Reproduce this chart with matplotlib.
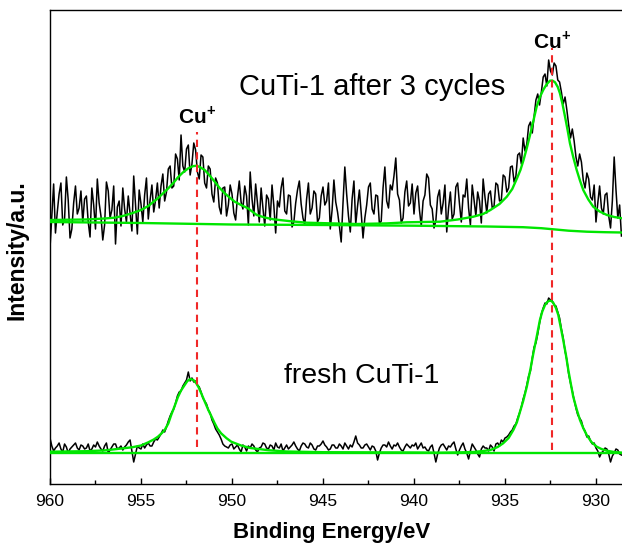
import numpy as np
import matplotlib
matplotlib.use('Agg')
import matplotlib.pyplot as plt
from matplotlib.ticker import MultipleLocator

plt.rcParams['font.family'] = ['Liberation Sans', 'DejaVu Sans']
plt.rcParams['mathtext.fontset'] = 'custom'
plt.rcParams['mathtext.rm'] = 'Liberation Sans'
plt.rcParams['mathtext.bf'] = 'Liberation Sans:bold'

# binding energy grid of the raw spectra (0.1 eV step, 960 -> 928.6 eV)
e_start = 960.0
e_step = 0.1

# raw counts, CuTi-1 after 3 cycles (upper trace), arbitrary units
cycled = [
    236, 268, 300, 251, 272, 290, 301, 259, 265, 307, 284, 246, 255, 281, 298, 270, 276, 293, 262, 285,
    288, 262, 247, 296, 279, 255, 305, 281, 268, 244, 259, 302, 293, 266, 274, 298, 240, 277, 283, 258,
    296, 275, 262, 288, 271, 253, 308, 279, 250, 294, 280, 262, 289, 306, 265, 284, 299, 272, 284, 301,
    276, 298, 310, 283, 292, 315, 318, 296, 298, 330, 325, 304, 349, 318, 312, 335, 339, 309, 320, 341,
    334, 312, 305, 329, 327, 301, 296, 318, 315, 290, 282, 306, 301, 277, 270, 296, 297, 268, 279, 299,
    290, 271, 264, 287, 303, 282, 275, 298, 288, 259, 312, 285, 268, 300, 281, 262, 296, 276, 258, 289,
    285, 264, 299, 278, 251, 283, 277, 296, 306, 273, 270, 289, 288, 257, 262, 281, 294, 303, 280, 266,
    259, 285, 301, 270, 276, 293, 290, 262, 266, 288, 297, 279, 283, 301, 255, 274, 304, 282, 272, 258,
    242, 281, 317, 290, 268, 252, 285, 303, 260, 278, 294, 271, 246, 266, 279, 297, 301, 275, 270, 289,
    288, 260, 263, 296, 317, 283, 276, 299, 294, 308, 326, 290, 284, 261, 266, 292, 303, 278, 281, 300,
    270, 291, 298, 274, 258, 283, 289, 310, 306, 279, 275, 256, 263, 287, 294, 270, 281, 299, 252, 276,
    292, 265, 270, 297, 301, 280, 262, 289, 287, 305, 276, 259, 299, 284, 268, 292, 283, 261, 305, 287,
    271, 290, 293, 276, 278, 301, 299, 283, 284, 309, 307, 292, 296, 317, 318, 302, 308, 329, 331, 320,
    346, 333, 340, 358, 362, 351, 368, 384, 390, 379, 392, 407, 410, 398, 424, 413, 409, 421, 418, 404,
    402, 392, 380, 387, 374, 359, 346, 355, 343, 327, 318, 330, 322, 304, 296, 311, 305, 287, 284, 299,
    262, 281, 298, 276, 270, 289, 291, 268, 256, 283, 327, 294, 266, 279, 248,
]

# raw counts, fresh CuTi-1 (lower trace)
fresh = [
    46, 38, 33, 36, 38, 41, 35, 32, 40, 37, 31, 35, 37, 39, 41, 36, 34, 39, 38, 35,
    36, 40, 33, 35, 39, 37, 42, 38, 35, 33, 38, 41, 31, 34, 37, 40, 40, 35, 36, 38,
    34, 37, 39, 42, 44, 33, 22, 30, 38, 36, 35, 40, 36, 39, 41, 38, 38, 42, 45, 44,
    47, 50, 54, 52, 57, 63, 68, 72, 75, 81, 88, 92, 93, 98, 101, 104, 112, 103, 106, 102,
    103, 99, 97, 92, 86, 83, 80, 74, 71, 64, 60, 55, 52, 49, 45, 40, 38, 37, 36, 39,
    40, 35, 37, 39, 35, 32, 39, 37, 33, 38, 36, 40, 38, 34, 32, 36, 37, 41, 40, 36,
    35, 39, 38, 34, 41, 37, 36, 40, 33, 36, 39, 35, 37, 39, 42, 38, 35, 33, 38, 41,
    40, 37, 36, 41, 39, 35, 34, 38, 38, 40, 43, 39, 37, 34, 35, 39, 39, 36, 36, 40,
    38, 35, 41, 38, 35, 39, 37, 42, 48, 41, 39, 36, 36, 39, 40, 37, 34, 38, 37, 33,
    24, 31, 36, 39, 39, 37, 42, 38, 35, 39, 38, 41, 37, 34, 33, 37, 40, 38, 36, 39,
    38, 41, 35, 38, 41, 36, 37, 34, 33, 37, 39, 31, 22, 30, 36, 39, 40, 37, 34, 38,
    37, 40, 42, 35, 29, 34, 38, 41, 35, 31, 25, 33, 40, 37, 34, 30, 27, 35, 38, 36,
    36, 33, 39, 37, 33, 40, 41, 38, 44, 42, 46, 47, 49, 52, 54, 58, 60, 66, 71, 77,
    85, 91, 99, 108, 113, 126, 137, 141, 150, 161, 170, 176, 181, 180, 186, 184, 183, 179, 178, 172,
    166, 155, 146, 133, 124, 110, 101, 93, 84, 76, 69, 66, 63, 56, 53, 47, 48, 43, 40, 41,
    36, 33, 27, 31, 33, 36, 35, 30, 22, 28, 31, 35, 34, 30, 29,
]

# fitted envelope and background, upper spectrum
cyc_fit_e = [960, 958, 957, 956.45, 956, 955.5, 955, 954.6, 954.3, 954.07,
             953.8, 953.5, 953.2, 952.97, 952.7, 952.4, 952.15, 951.95, 951.75,
             951.5, 951.25, 950.95, 950.7, 950.4, 950.1, 949.85, 949.5, 949.12,
             948.64, 948.2, 947.73, 946.8, 945.9, 944.5, 943.15, 941.5, 940.4,
             939.5, 938.57, 937.6, 936.74, 936.2, 935.8, 935.3, 934.9, 934.6,
             934.34, 934.15, 933.98, 933.8, 933.6, 933.43, 933.26, 933.08, 932.9,
             932.72, 932.53, 932.4, 932.25, 932.1, 931.98, 931.84, 931.7, 931.56,
             931.43, 931.25, 931.06, 930.88, 930.7, 930.42, 930.15, 929.8, 929.4,
             929.0, 928.57]
cyc_fit = [264, 264.5, 265.5, 266.3, 268, 270.7, 274, 278, 282.5, 285.7,
           290.5, 295.7, 301.5, 306.7, 311.5, 315.7, 317.8, 318.3, 316.8,
           314, 309, 302.3, 296.5, 290.7, 286, 282.3, 279, 275.7,
           269, 266.5, 264.7, 262.8, 261.3, 260.6, 260, 260.6, 261.7,
           262, 262.3, 264.5, 267.3, 270, 274, 280, 287.3, 295,
           305.7, 314, 324, 336, 350.7, 364, 377.3, 387, 394,
           399.5, 403.3, 403.5, 401.7, 397, 390.7, 380, 367.3, 354,
           340.7, 327, 314, 303.5, 294, 284.5, 277.3, 272.5, 269,
           267, 265.7]
cyc_bg_e = [960, 955, 950, 945, 940, 936, 934, 933, 932.4, 931.5, 930.5, 929.5, 928.57]
cyc_bg = [262, 261, 259.5, 259, 258.3, 257.5, 256.8, 255.8, 254.8, 253.3, 252.3, 251.8, 251.5]

# fitted envelope and background, lower spectrum
fresh_fit_e = [960, 958, 957, 956.45, 955.5, 955, 954.6, 954.3, 954.07, 953.85,
               953.7, 953.5, 953.34, 953.15, 952.97, 952.8, 952.6, 952.45, 952.29,
               952.12, 951.96, 951.83, 951.69, 951.5, 951.3, 951.1, 950.95, 950.8,
               950.6, 950.3, 950.04, 949.5, 949, 948, 947, 945, 940, 938.57, 937.5,
               936.74, 936.2, 935.8, 935.4, 935.1, 934.8, 934.54, 934.35, 934.2,
               934.0, 933.8, 933.6, 933.44, 933.25, 933.08, 932.95, 932.8, 932.68,
               932.56, 932.45, 932.35, 932.2, 932.07, 931.95, 931.8, 931.65, 931.52,
               931.38, 931.25, 931.05, 930.88, 930.7, 930.51, 930.25, 929.96, 929.7,
               929.4, 929.0, 928.57]
fresh_fit = [32.3, 32.8, 33.6, 34.7, 36.7, 38.5, 41.7, 44.5, 47.3, 51,
             54, 60.5, 69, 78, 87, 93.5, 99, 103, 105,
             104, 100.7, 96.5, 90.7, 82.5, 74, 66.5, 60.7, 55.5,
             50.7, 45.8, 42.3, 38.5, 36, 33.8, 32.5, 31.8, 31.5, 31.3, 31.6,
             32, 33, 34, 37, 40.7, 46, 54, 61.5, 70.7,
             83, 97.3, 115, 130.7, 148, 164, 172.5, 179, 182,
             183.3, 183, 181.3, 176, 169, 158, 144, 129, 114,
             100, 87.3, 74, 64, 56, 49, 42, 37.3, 35,
             33.3, 32, 31.3]
fresh_bg_e = [960, 928.57]
fresh_bg = [31, 31]

# Cu+ peak markers
peak_e = [951.9, 932.4]
peak_top = [352, 436]
peak_bottom = [37, 34]
label_y = [368, 443]

e_cyc = e_start - e_step * np.arange(len(cycled))
e_fresh = e_start - e_step * np.arange(len(fresh))

fig = plt.figure(figsize=(6.22, 5.45), dpi=100)
ax = fig.add_axes([50/622, 1 - 484/545, 572/622, 474/545])

green = '#00e600'
ax.plot(e_cyc, cycled, color='black', lw=1.1, zorder=2)
ax.plot(e_fresh, fresh, color='black', lw=1.1, zorder=2)
ax.plot(cyc_bg_e, cyc_bg, color=green, lw=1.7, zorder=3)
ax.plot(cyc_fit_e, cyc_fit, color=green, lw=1.7, zorder=3)
ax.plot(fresh_bg_e, fresh_bg, color=green, lw=1.7, zorder=3)
ax.plot(fresh_fit_e, fresh_fit, color=green, lw=1.7, zorder=3)

ax.vlines(peak_e, peak_bottom, peak_top, colors='#f02828', lw=1.5,
          linestyles=(0, (3.5, 2.5)), zorder=4)
for pe, ly in zip(peak_e, label_y):
    ax.text(pe, ly, r'$\mathbf{Cu}^{\mathbf{+}}$', ha='center', va='center', fontsize=15)

ax.text(942.3, 397, 'CuTi-1 after 3 cycles', ha='center', va='center', fontsize=21)
ax.text(942.86, 108, 'fresh CuTi-1', ha='center', va='center', fontsize=20.5)

ax.set_xlim(960, 928.57)
ax.set_ylim(0, 474)
ax.set_yticks([])
ax.xaxis.set_major_locator(MultipleLocator(5))
ax.xaxis.set_minor_locator(MultipleLocator(2.5))
ax.tick_params(axis='x', which='major', direction='in', length=4.5, width=1.0,
               labelsize=12.5, pad=7)
ax.tick_params(axis='x', which='minor', direction='in', length=2.8, width=1.0)
for s in ['left', 'bottom', 'top']:
    ax.spines[s].set_linewidth(1.0)
ax.spines['right'].set_visible(False)

ax.set_xlabel('Binding Energy/eV', fontsize=16, fontweight='bold')
ax.xaxis.set_label_coords(0.493, -0.080)
ax.set_ylabel('Intensity/a.u.', fontsize=16.5, fontweight='bold')
ax.yaxis.set_label_coords(-0.038, 0.494)

fig.savefig('out.png', dpi=100)
